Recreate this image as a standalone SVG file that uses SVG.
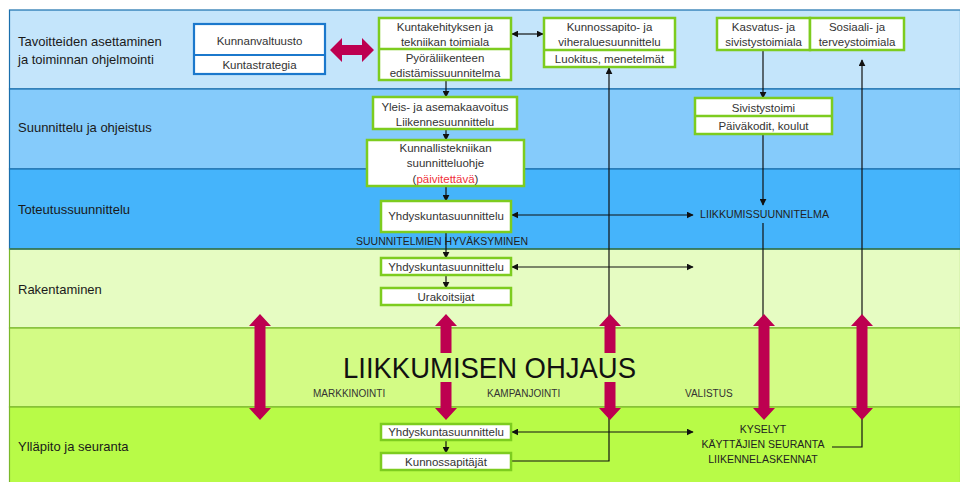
<svg xmlns="http://www.w3.org/2000/svg" width="960" height="482" viewBox="0 0 960 482">
<style>
.band-label{font-family:"Liberation Sans",Arial,sans-serif;font-size:13px;fill:#1a1a1a}
.t{font-family:"Liberation Sans",Arial,sans-serif;font-size:11.5px;fill:#333;text-anchor:middle}
.cap{font-family:"Liberation Sans",Arial,sans-serif;font-size:10.5px;fill:#222}
.small{font-family:"Liberation Sans",Arial,sans-serif;font-size:10px;fill:#333}
.gbox{fill:#fff;stroke:#7dcc1f;stroke-width:2.5}
.bbox{fill:#fff;stroke:#1b78cc;stroke-width:2.2}
.conn{fill:none;stroke:#111;stroke-width:1.2}
.mag{fill:#bd0050}
</style>
<defs>
<marker id="ah" viewBox="0 0 10 10" refX="9" refY="5" markerWidth="7" markerHeight="7" orient="auto-start-reverse" markerUnits="userSpaceOnUse">
<path d="M0,0 L10,5 L0,10 Z" fill="#111"/>
</marker>
<path id="varrow" d="M0,0 L11,12 L5.5,12 L5.5,94 L11,94 L0,106 L-11,94 L-5.5,94 L-5.5,12 L-11,12 Z"/>
</defs>

<g id="bands">
<rect x="9.5" y="10" width="951" height="79" fill="#c4e5fb" stroke="#1a6fad" stroke-width="1.2"/>
<rect x="9.5" y="89" width="951" height="80" fill="#85cbfb" stroke="#1a6fad" stroke-width="1.2"/>
<rect x="9.5" y="169" width="951" height="80" fill="#45b4fb" stroke="#1a6fad" stroke-width="1.2"/>
<rect x="9.5" y="249" width="951" height="79" fill="#e6fcc2" stroke="#7ab82a" stroke-width="1.2"/>
<rect x="9.5" y="328" width="951" height="79" fill="#d3fb85" stroke="#7ab82a" stroke-width="1.2"/>
<rect x="9.5" y="407" width="951" height="80" fill="#b8fb47" stroke="#7ab82a" stroke-width="1.2"/>
<line x1="9.5" y1="249" x2="960" y2="249" stroke="#2d6e62" stroke-width="1.4"/>
<text class="band-label" x="18" y="46">Tavoitteiden asettaminen</text>
<text class="band-label" x="18" y="64">ja toiminnan ohjelmointi</text>
<text class="band-label" x="18" y="132">Suunnittelu ja ohjeistus</text>
<text class="band-label" x="18" y="214">Toteutussuunnittelu</text>
<text class="band-label" x="18" y="294">Rakentaminen</text>
<text class="band-label" x="18" y="451">Ylläpito ja seuranta</text>
</g>

<g id="connectors">
<line class="conn" x1="512" y1="34" x2="543" y2="34" marker-start="url(#ah)" marker-end="url(#ah)"/>
<line class="conn" x1="446" y1="80" x2="446" y2="97" marker-end="url(#ah)"/>
<line class="conn" x1="446" y1="129" x2="446" y2="140" marker-end="url(#ah)"/>
<line class="conn" x1="446" y1="186" x2="446" y2="201" marker-end="url(#ah)"/>
<line class="conn" x1="512" y1="215" x2="693" y2="215" marker-start="url(#ah)" marker-end="url(#ah)"/>
<line class="conn" x1="446" y1="232" x2="446" y2="258" marker-end="url(#ah)"/>
<line class="conn" x1="512" y1="267" x2="693" y2="267" marker-start="url(#ah)" marker-end="url(#ah)"/>
<line class="conn" x1="446" y1="275" x2="446" y2="288" marker-end="url(#ah)"/>
<line class="conn" x1="763" y1="50" x2="763" y2="98" marker-end="url(#ah)"/>
<line class="conn" x1="763" y1="134" x2="763" y2="205" marker-end="url(#ah)"/>
<line class="conn" x1="763" y1="223" x2="763" y2="318"/>
<path class="conn" d="M832,447 H862 V60" marker-end="url(#ah)"/>
<path class="conn" d="M511,461 H609 V68" marker-end="url(#ah)"/>
<line class="conn" x1="446" y1="440" x2="446" y2="453" marker-end="url(#ah)"/>
<line class="conn" x1="512" y1="432" x2="693" y2="432" marker-start="url(#ah)" marker-end="url(#ah)"/>
</g>

<g id="steering-arrows">
<path class="mag" d="M330,50 L342,38 L342,45 L362,45 L362,38 L374,50 L362,62 L362,55 L342,55 L342,62 Z"/>
<use href="#varrow" class="mag" x="260" y="314"/>
<use href="#varrow" class="mag" x="446" y="314"/>
<use href="#varrow" class="mag" x="610" y="314"/>
<use href="#varrow" class="mag" x="764" y="314"/>
<use href="#varrow" class="mag" x="862" y="314"/>
</g>

<g id="liikkumisen-ohjaus">
<rect x="338" y="353" width="300" height="29" fill="#d3fb85"/>
<text x="343" y="378" font-family="Liberation Sans, Arial, sans-serif" font-size="30" fill="#111" textLength="293" lengthAdjust="spacingAndGlyphs">LIIKKUMISEN OHJAUS</text>
<text class="small" x="313" y="397">MARKKINOINTI</text>
<text class="small" x="487" y="397">KAMPANJOINTI</text>
<text class="small" x="685" y="397">VALISTUS</text>
</g>

<g id="kunnanvaltuusto">
<rect class="bbox" x="194" y="24" width="131" height="50"/>
<line x1="194" y1="55" x2="325" y2="55" stroke="#1b78cc" stroke-width="2.2"/>
<text class="t" x="259.5" y="45" font-size="12.5" fill="#111">Kunnanvaltuusto</text>
<text class="t" x="259.5" y="69" font-size="12.5" fill="#111">Kuntastrategia</text>
</g>

<g id="kuntakehitys">
<rect class="gbox" x="379" y="18" width="132" height="62"/>
<line x1="379" y1="49" x2="511" y2="49" stroke="#7dcc1f" stroke-width="2.5"/>
<text class="t" x="445" y="31">Kuntakehityksen ja</text>
<text class="t" x="445" y="46">tekniikan toimiala</text>
<text class="t" x="445" y="62">Pyöräliikenteen</text>
<text class="t" x="445" y="77">edistämissuunnitelma</text>
</g>

<g id="kunnossapito">
<rect class="gbox" x="544" y="18" width="131" height="49"/>
<line x1="544" y1="50" x2="675" y2="50" stroke="#7dcc1f" stroke-width="2.5"/>
<text class="t" x="609.5" y="31">Kunnossapito- ja</text>
<text class="t" x="609.5" y="46">viheraluesuunnittelu</text>
<text class="t" x="609.5" y="63">Luokitus, menetelmät</text>
</g>

<g id="kasvatus">
<rect class="gbox" x="717" y="18" width="93" height="32"/>
<text class="t" x="763.5" y="31">Kasvatus- ja</text>
<text class="t" x="763.5" y="46">sivistystoimiala</text>
</g>

<g id="sosiaali">
<rect class="gbox" x="810" y="18" width="94" height="32"/>
<text class="t" x="857" y="31">Sosiaali- ja</text>
<text class="t" x="857" y="46">terveystoimiala</text>
</g>

<g id="yleiskaavoitus">
<rect class="gbox" x="373" y="97" width="144" height="32"/>
<text class="t" x="445" y="111">Yleis- ja asemakaavoitus</text>
<text class="t" x="445" y="126">Liikennesuunnittelu</text>
</g>

<g id="sivistystoimi">
<rect class="gbox" x="695" y="98" width="137" height="36"/>
<line x1="695" y1="116" x2="832" y2="116" stroke="#7dcc1f" stroke-width="2.5"/>
<text class="t" x="763.5" y="112">Sivistystoimi</text>
<text class="t" x="763.5" y="130">Päiväkodit, koulut</text>
</g>

<g id="kunnallistekniikka">
<rect class="gbox" x="367" y="140" width="157" height="46"/>
<text class="t" x="445.5" y="152">Kunnallistekniikan</text>
<text class="t" x="445.5" y="167">suunnitteluohje</text>
<text class="t" x="445.5" y="183">(<tspan fill="#f0303a">päivitettävä</tspan>)</text>
</g>

<g id="yhdyskunta-toteutus">
<rect class="gbox" x="381" y="201" width="130" height="31"/>
<text class="t" x="446" y="220">Yhdyskuntasuunnittelu</text>
</g>

<g id="liikkumissuunnitelma">
<text class="cap" x="700" y="218" textLength="129" lengthAdjust="spacingAndGlyphs">LIIKKUMISSUUNNITELMA</text>
</g>

<g id="hyvaksyminen">
<text class="cap" x="442" y="245" text-anchor="middle" textLength="172" lengthAdjust="spacingAndGlyphs">SUUNNITELMIEN HYVÄKSYMINEN</text>
</g>

<g id="yhdyskunta-rakentaminen">
<rect class="gbox" x="381" y="258" width="130" height="17"/>
<text class="t" x="446" y="271">Yhdyskuntasuunnittelu</text>
</g>

<g id="urakoitsijat">
<rect class="gbox" x="381" y="288" width="130" height="17"/>
<text class="t" x="446" y="301">Urakoitsijat</text>
</g>

<g id="yhdyskunta-yllapito">
<rect class="gbox" x="381" y="424" width="130" height="16"/>
<text class="t" x="446" y="436">Yhdyskuntasuunnittelu</text>
</g>

<g id="kunnossapitajat">
<rect class="gbox" x="381" y="453" width="130" height="17"/>
<text class="t" x="446" y="466">Kunnossapitäjät</text>
</g>

<g id="seuranta">
<text class="cap" x="763" y="433" text-anchor="middle">KYSELYT</text>
<text class="cap" x="763" y="448" text-anchor="middle">KÄYTTÄJIEN SEURANTA</text>
<text class="cap" x="763" y="463" text-anchor="middle">LIIKENNELASKENNAT</text>
</g>
</svg>
